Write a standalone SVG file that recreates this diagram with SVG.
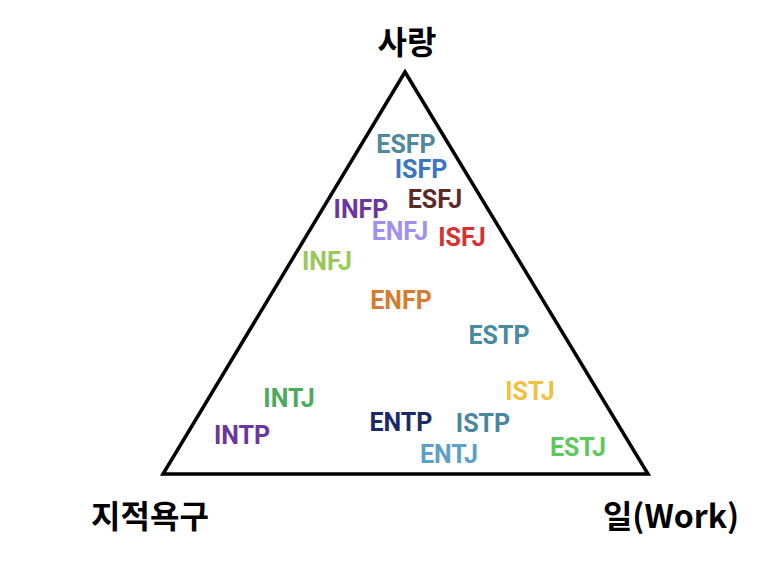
<svg xmlns="http://www.w3.org/2000/svg" width="773" height="570" viewBox="0 0 773 570">
<style>
.t{font-family:Roboto,"Liberation Sans",sans-serif;font-weight:700;font-size:25px;text-anchor:middle;dominant-baseline:central}
.h{font-family:"Noto Sans CJK KR","Liberation Sans",sans-serif;font-weight:700;font-size:32px;fill:#000;text-anchor:middle;dominant-baseline:central}
</style>
<rect width="773" height="570" fill="#fff"/>
<g id="connectors">
<polygon points="405,72 163,474 648,474" fill="none" stroke="#000" stroke-width="3.5" stroke-linejoin="miter"/>
</g>
<g id="love"><text class="h" x="407" y="40">사랑</text></g>
<g id="intellect"><text class="h" x="150" y="514">지적욕구</text></g>
<g id="work"><text class="h" x="671" y="514">일(Work)</text></g>
<g id="ESFP"><text class="t" x="406" y="144" fill="#4e8a9a">ESFP</text></g>
<g id="ISFP"><text class="t" x="421" y="169" fill="#3a76c2">ISFP</text></g>
<g id="ESFJ"><text class="t" x="435" y="199" fill="#5a2a28">ESFJ</text></g>
<g id="INFP"><text class="t" x="361" y="209" fill="#6a36a0">INFP</text></g>
<g id="ENFJ"><text class="t" x="400" y="231" fill="#a090f0">ENFJ</text></g>
<g id="ISFJ"><text class="t" x="462" y="237" fill="#d83030">ISFJ</text></g>
<g id="INFJ"><text class="t" x="327" y="261" fill="#9cc85a">INFJ</text></g>
<g id="ENFP"><text class="t" x="401" y="300" fill="#d87a30">ENFP</text></g>
<g id="ESTP"><text class="t" x="499" y="335" fill="#4a8aa0">ESTP</text></g>
<g id="ISTJ"><text class="t" x="530" y="391" fill="#f0c040">ISTJ</text></g>
<g id="INTJ"><text class="t" x="289" y="398" fill="#4caa5c">INTJ</text></g>
<g id="ENTP"><text class="t" x="401" y="422" fill="#1a2a66">ENTP</text></g>
<g id="ISTP"><text class="t" x="483" y="423" fill="#4a86a0">ISTP</text></g>
<g id="INTP"><text class="t" x="242" y="435" fill="#6a36a0">INTP</text></g>
<g id="ENTJ"><text class="t" x="449" y="454" fill="#5aa0c8">ENTJ</text></g>
<g id="ESTJ"><text class="t" x="578" y="447" fill="#5cc860">ESTJ</text></g>
</svg>
